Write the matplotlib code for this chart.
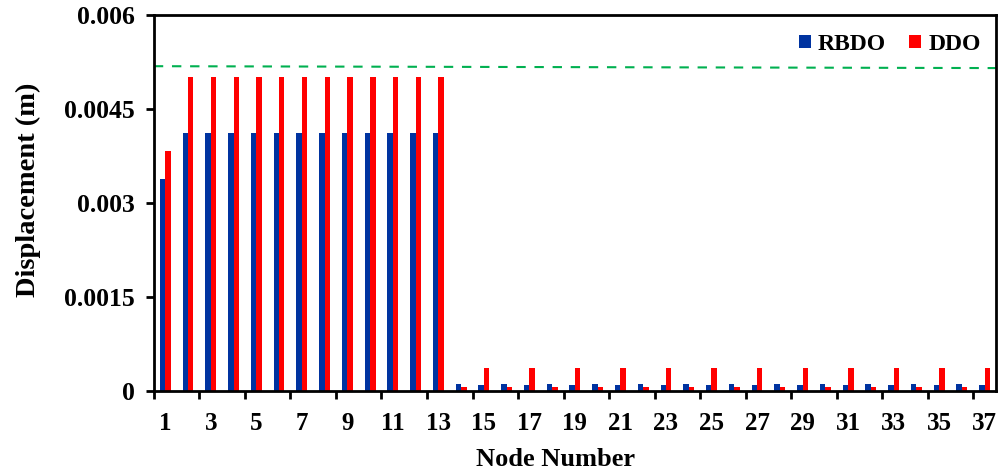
import numpy as np
import matplotlib.pyplot as plt
from matplotlib.ticker import FixedLocator, NullFormatter

plt.rcParams['font.family'] = ['Liberation Serif', 'DejaVu Serif']
plt.rcParams['font.weight'] = 'bold'

nodes = list(range(1, 38))
rbdo = [0.00339] + [0.00413] * 12 + [0.00011 if n % 2 == 0 else 0.00010 for n in range(14, 38)]
ddo = [0.00384] + [0.00501] * 12 + [0.00007 if n % 2 == 0 else 0.00037 for n in range(14, 38)]
limit_x = [0.5, 37.5]
limit_y = [0.00519, 0.00516]
yticks = [0, 0.0015, 0.003, 0.0045, 0.006]
ytick_labels = ['0', '0.0015', '0.003', '0.0045', '0.006']

fig = plt.figure(figsize=(9.99, 4.69), dpi=100)
ax = fig.add_axes([0.154, 0.166, 0.843, 0.801])

x = np.array(nodes)
w = 0.24
ax.bar(x - w / 2, rbdo, width=w, color='#0033a0', label='RBDO')
ax.bar(x + w / 2, ddo, width=w, color='#ff0000', label='DDO')
ax.plot(limit_x, limit_y, color='#00b050', lw=1.5, ls=(0, (4.5, 4.2)))

ax.set_xlim(0.5, 37.5)
ax.set_ylim(0, 0.006)
ax.set_yticks(yticks)
ax.set_yticklabels(ytick_labels)

# labels on odd nodes, tick marks on category boundaries
ax.set_xticks(list(range(1, 38, 2)))
ax.xaxis.set_minor_locator(FixedLocator(np.arange(0.5, 37, 2)))
ax.xaxis.set_minor_formatter(NullFormatter())
ax.tick_params(axis='x', which='major', length=0, pad=15, labelsize=18)
ax.tick_params(axis='x', which='minor', length=6, width=2, direction='out')
ax.tick_params(axis='y', length=6, width=2, direction='out', labelsize=18.5, pad=8)

for s in ax.spines.values():
    s.set_linewidth(2)

ax.set_xlabel('Node Number', fontsize=19, fontweight='bold')
ax.xaxis.set_label_coords(0.477, -0.151)
ax.set_ylabel('Displacement (m)', fontsize=20.5, fontweight='bold')
ax.yaxis.set_label_coords(-0.134, 0.537)

ax.legend(loc='upper right', ncol=2, frameon=False, fontsize=17, handlelength=0.5,
          handleheight=0.5, handletextpad=0.3, columnspacing=1.0,
          bbox_to_anchor=(1.007, 1.007))

fig.savefig('out.png', dpi=100)
